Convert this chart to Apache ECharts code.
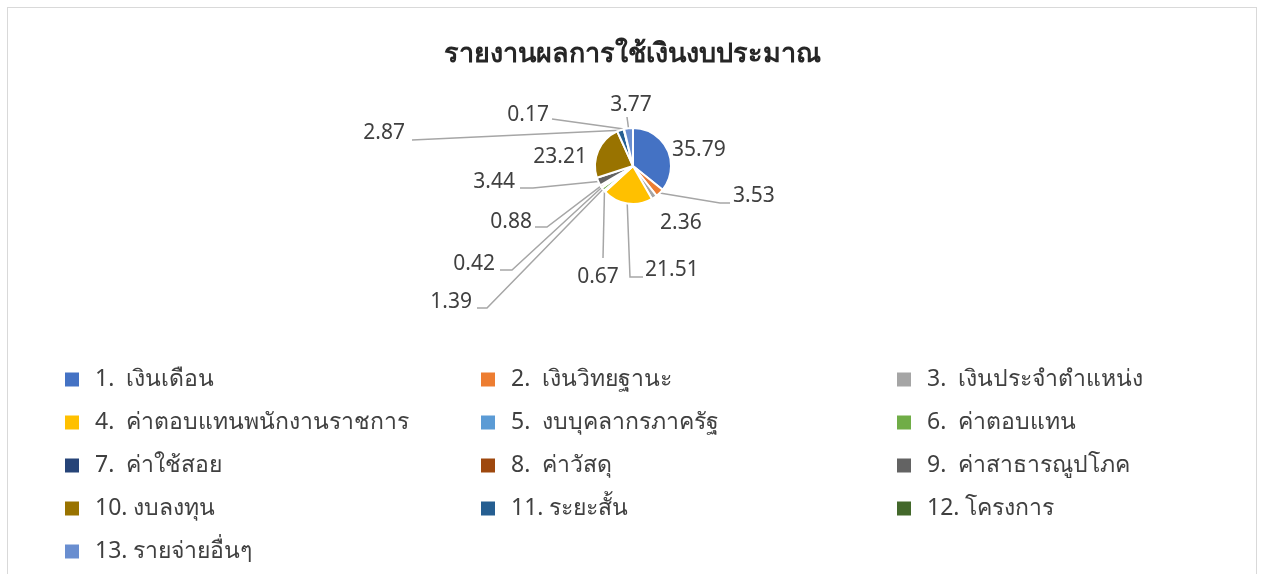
<!DOCTYPE html>
<html><head><meta charset="utf-8">
<script src="https://cdn.jsdelivr.net/npm/echarts@6/dist/echarts.min.js"></script>
<style>
html,body{margin:0;padding:0;background:#fff;overflow:hidden;}
#frame{position:absolute;left:7px;top:7px;width:1250px;height:600px;border:1px solid #d9d9d9;box-sizing:border-box;}
#main{position:absolute;left:0;top:0;width:1265px;height:574px;}
</style></head>
<body>
<div id="frame"></div>
<div id="main"></div>
<script>
const title = 'รายงานผลการใช้เงินงบประมาณ';
const categories = ['1.  เงินเดือน','2.  เงินวิทยฐานะ','3.  เงินประจำตำแหน่ง','4.  ค่าตอบแทนพนักงานราชการ','5.  งบบุคลากรภาครัฐ','6.  ค่าตอบแทน','7.  ค่าใช้สอย','8.  ค่าวัสดุ','9.  ค่าสาธารณูปโภค','10. งบลงทุน','11. ระยะสั้น','12. โครงการ','13. รายจ่ายอื่นๆ'];
const values = [35.79, 3.53, 2.36, 21.51, 0.67, 1.39, 0.42, 0.88, 3.44, 23.21, 2.87, 0.17, 3.77];
const colors = ['#4472C4','#ED7D31','#A5A5A5','#FFC000','#5B9BD5','#70AD47','#264478','#9E480E','#636363','#997300','#255E91','#43682B','#698ED0'];

// label placement: [labelX, labelY, align, bend point, end point] (null = no leader line)
const labelPlace = [
  [672,150,'left', null],
  [733,196,'left', [720,203],[730,203]],
  [660,223,'left', null],
  [645,270,'left', [630,277],[643,277]],
  [598,277,'center', [603,258],[603,258]],
  [472,302,'right', [487,308],[477,308]],
  [495,264,'right', [512,270],[500,270]],
  [532,222,'right', [547,227],[535,227]],
  [515,182,'right', [533,188],[520,188]],
  [587,157,'right', null],
  [405,133,'right', [412,140],[412,140]],
  [549,115,'right', [552,119],[552,119]],
  [631,105,'center', [627,117],[627,117]]
];

const chart = echarts.init(document.getElementById('main'), null, {renderer:'canvas'});
const FONT = '"Noto Sans", "Open Sans", sans-serif';
chart.setOption({
  animation:false,
  color: colors,
  title:{ text:title, left:'center', top:36, textStyle:{fontSize:27, fontWeight:'bold', color:'#262626', fontFamily:FONT} },
  legend:{
    left:63, top:358, width:1250, padding:0, itemGap:0, itemWidth:16, itemHeight:16, icon:'rect',
    data: categories,
    textStyle:{ fontSize:23, color:'#404040', width:384, lineHeight:43, padding:[0,0,0,10], fontFamily:FONT }
  },
  series:[{
    type:'pie', center:[633,166], radius:38, startAngle:90, clockwise:true,
    itemStyle:{ borderColor:'#fff', borderWidth:2 },
    label:{ show:true, formatter:p=>p.value.toFixed(2), fontSize:21, color:'#404040', fontFamily:FONT },
    labelLine:{ show:true, length:5, length2:5, lineStyle:{color:'#A6A6A6', width:1.5} },
    labelLayout: function(params){
      const i = params.dataIndex;
      const lp = labelPlace[i];
      const res = { x: lp[0], y: lp[1], align: lp[2], verticalAlign:'middle', hideOverlap:false, moveOverlap:null };
      const p0 = params.labelLinePoints ? params.labelLinePoints[0] : [0,0];
      res.labelLinePoints = lp[3] ? [p0, lp[3], lp[4]] : [p0, p0, p0];
      return res;
    },
    data: categories.map((c,i)=>({name:c, value:values[i]}))
  }]
});
</script>
</body></html>
